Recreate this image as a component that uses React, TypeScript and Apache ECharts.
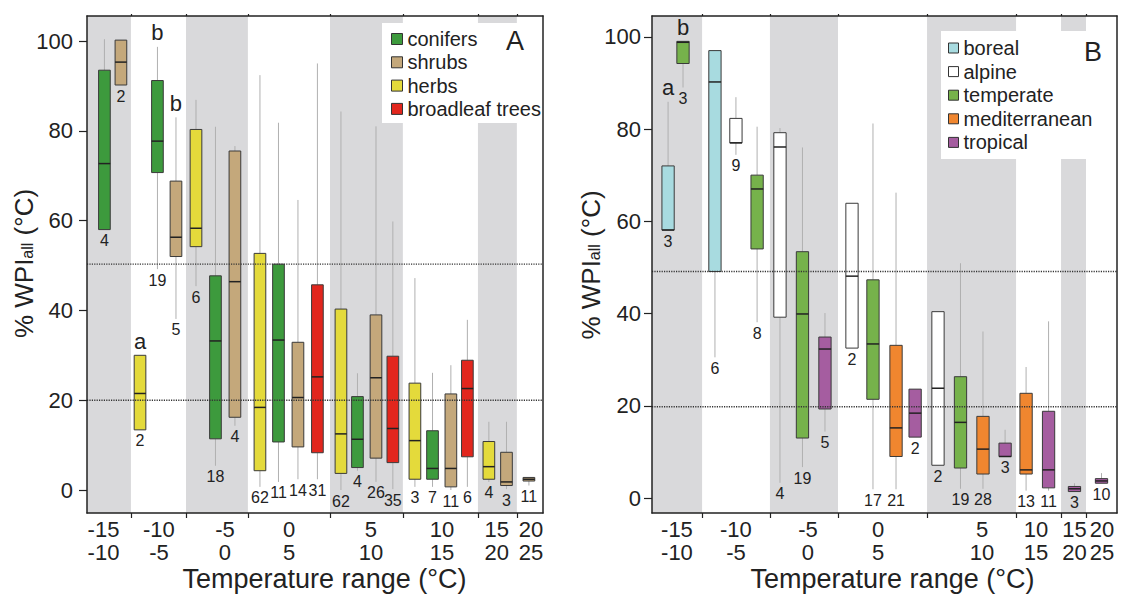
import React, { useEffect, useRef } from "react";
import * as echarts from "echarts";

const FONT = "'Liberation Sans', Arial, Helvetica, sans-serif";

// x tick labels (temperature ranges)
const tempLabels = ["-15\n-10", "-10\n-5", "-5\n0", "0\n5", "5\n10", "10\n15", "15\n20", "20\n25"];
const yTicks = [0, 20, 40, 60, 80, 100];

// Panel A: slot positions of range boundaries / label centres / shaded ranges
const edgesA = [2.37, 5.34, 8.68, 13.11, 17.04, 21.09, 23.19];
const labelPosA = [0.89, 3.88, 7.44, 10.9, 15.32, 19.15, 22.11, 23.95];
const shadedA = [[0, 2.37], [5.34, 8.68], [13.11, 17.04], [21.09, 23.19]];
const refLinesA = [50.3, 20];

// Panel B
const edgesB = [2.65, 6.24, 9.84, 14.55, 19.26, 21.64, 22.96];
const labelPosB = [1.32, 4.44, 8.25, 11.96, 17.46, 20.32, 22.35, 23.81];
const shadedB = [[0, 2.65], [6.24, 9.84], [14.55, 19.26], [21.64, 22.96]];
const refLinesB = [49.1, 19.8];

// [slot, lowWhisker, q1, median, q3, highWhisker, n, letter]
const conifers = [
  [0.94, null, 58.0, 72.7, 93.5, 100.4, 4, ""],
  [3.8, 49.2, 70.7, 77.7, 91.2, 98.7, 19, "b"],
  [6.93, 5.4, 11.4, 33.2, 47.7, 80.9, 18, ""],
  [10.33, 1.8, 10.7, 33.4, 50.3, 81.8, 11, ""],
  [14.59, 4.3, 5.0, 11.3, 20.8, 26.0, 4, ""],
  [18.64, 0.7, 2.4, 4.8, 13.2, 26.1, 7, ""],
];
const shrubs = [
  [1.83, null, 90.2, 95.3, 100.2, null, 2, ""],
  [4.8, 38.1, 52.0, 56.3, 68.8, 83.0, 5, "b"],
  [7.98, 14.3, 16.2, 46.4, 75.5, 76.6, 4, ""],
  [11.38, 2.4, 9.6, 20.6, 32.9, 64.6, 14, ""],
  [15.59, 1.8, 7.1, 25.0, 39.0, 81.0, 26, ""],
  [19.63, 0.0, 0.7, 4.8, 21.4, 27.8, 11, ""],
  [22.63, 0.2, 1.0, 1.8, 8.4, 15.2, 3, ""],
  [23.84, 1.0, 2.0, 2.4, 2.8, null, 11, ""],
];
const herbs = [
  [2.86, null, 13.4, 21.5, 30.0, null, 2, "a"],
  [5.88, 45.4, 54.2, 58.3, 80.3, 86.9, 6, ""],
  [9.33, 0.7, 4.3, 18.4, 52.7, 92.4, 62, ""],
  [13.7, 0.0, 3.7, 12.5, 40.3, 84.3, 62, ""],
  [17.69, 0.7, 2.4, 11.0, 23.8, 47.2, 3, ""],
  [21.68, 1.8, 2.4, 5.2, 10.8, 15.2, 4, ""],
];
const broadleaf = [
  [12.43, 2.4, 8.3, 25.2, 45.7, 95.0, 31, ""],
  [16.5, 0.2, 6.1, 13.7, 29.8, 59.8, 35, ""],
  [20.52, 0.7, 7.4, 22.6, 28.9, 37.9, 6, ""],
];

const boreal = [
  [0.85, null, 58.1, 58.1, 72.0, 85.9, 3, "a"],
  [3.33, 30.5, 49.1, 90.2, 97.0, null, 6, ""],
];
const alpine = [
  [4.44, 74.4, 77.0, 77.0, 82.3, 86.9, 9, ""],
  [6.77, 3.3, 39.2, 76.1, 79.2, 80.2, 4, ""],
  [10.58, null, 32.5, 48.1, 63.9, null, 2, ""],
  [15.13, null, 7.1, 23.8, 40.4, null, 2, ""],
];
const temperate = [
  [1.64, 89.0, 94.2, 98.8, 99.0, null, 3, "b"],
  [5.56, 38.1, 54.0, 67.0, 70.0, 80.5, 8, ""],
  [7.96, 6.7, 13.0, 39.9, 53.4, 76.0, 19, ""],
  [11.69, 1.9, 21.4, 33.4, 47.3, 81.2, 17, ""],
  [16.32, 2.0, 6.5, 16.4, 26.3, 50.9, 19, ""],
];
const mediterranean = [
  [12.91, 1.9, 9.0, 15.2, 33.1, 66.2, 21, ""],
  [17.51, 2.0, 5.2, 10.6, 17.7, 36.1, 28, ""],
  [19.79, 1.6, 5.2, 6.1, 22.7, 28.4, 13, ""],
];
const tropical = [
  [9.15, 14.4, 19.3, 32.3, 34.9, 40.1, 5, ""],
  [13.92, null, 13.2, 18.4, 23.6, null, 2, ""],
  [18.68, null, 9.0, 9.0, 11.9, 14.8, 3, ""],
  [20.98, 1.6, 2.2, 6.1, 18.8, 38.3, 11, ""],
  [22.35, null, 1.4, 2.0, 2.5, 3.2, 3, ""],
  [23.78, null, 3.2, 3.7, 4.2, 5.4, 10, ""],
];

const SLOT_MAX = 24.6;
const yRangeA = [-5.12, 105.57];
const yRangeB = [-3.25, 104.5];

function boxRenderer(rows: any[], boxW: number) {
  return (params: any, api: any) => {
    const r = rows[params.dataIndex];
    const [pos, lo, q1, med, q3, hi, n, letter] = r;
    const half = api.size([boxW, 0])[0] / 2;
    const c = (v: number) => api.coord([pos, v]);
    const p1 = c(q1);
    const p3 = c(q3);
    const pm = c(med);
    const x = p1[0];
    const color = api.visual("color");
    const children: any[] = [];
    if (hi != null) {
      children.push({ type: "line", shape: { x1: x, y1: p3[1], x2: x, y2: c(hi)[1] }, style: { stroke: "#b0b0b0", lineWidth: 1 } });
    }
    if (lo != null) {
      children.push({ type: "line", shape: { x1: x, y1: p1[1], x2: x, y2: c(lo)[1] }, style: { stroke: "#b0b0b0", lineWidth: 1 } });
    }
    children.push({
      type: "rect",
      shape: { x: x - half, y: p3[1], width: half * 2, height: Math.max(p1[1] - p3[1], 2) },
      style: { fill: color, stroke: "#3a3a3a", lineWidth: 1 },
    });
    children.push({ type: "line", shape: { x1: x - half, y1: pm[1], x2: x + half, y2: pm[1] }, style: { stroke: "#222", lineWidth: 1.5 } });
    const lowY = c(lo != null ? lo : q1)[1];
    children.push({
      type: "text", x, y: lowY + 11,
      style: { text: String(n), fontSize: 16, fontFamily: FONT, fill: "#222", align: "center", verticalAlign: "middle" },
    });
    if (letter) {
      const topY = c(hi != null ? hi : q3)[1];
      children.push({
        type: "text", x, y: topY - 14,
        style: { text: letter, fontSize: 22, fontFamily: FONT, fill: "#222", align: "center", verticalAlign: "middle" },
      });
    }
    return { type: "group", children };
  };
}

function boxSeries(name: string, rows: any[], color: string, axis: number, boxW: number) {
  return {
    name, type: "custom", xAxisIndex: axis, yAxisIndex: axis, z: 2,
    itemStyle: { color },
    data: rows.map((r) => [r[0], r[2], r[4]]),
    encode: { x: 0, y: [1, 2] },
    renderItem: boxRenderer(rows, boxW),
  };
}

function bandSeries(name: string, bands: number[][], axis: number, yr: number[]) {
  return {
    name, type: "custom", xAxisIndex: axis, yAxisIndex: axis, z: 1, silent: true,
    data: bands.map((b) => [b[0], b[1], 0]),
    encode: { x: [0, 1], y: 2 },
    renderItem: (params: any, api: any) => {
      const b = bands[params.dataIndex];
      const a = api.coord([b[0], yr[1]]);
      const d = api.coord([b[1], yr[0]]);
      return { type: "rect", shape: { x: a[0], y: a[1], width: d[0] - a[0], height: d[1] - a[1] }, style: { fill: "#d9d9db" } };
    },
  };
}

function refSeries(name: string, vals: number[], axis: number) {
  return {
    name, type: "custom", xAxisIndex: axis, yAxisIndex: axis, z: 5, silent: true,
    data: vals.map((v) => [0, v]),
    encode: { x: 0, y: 1 },
    renderItem: (params: any, api: any) => {
      const v = vals[params.dataIndex];
      const a = api.coord([0, v]);
      const b = api.coord([SLOT_MAX, v]);
      return { type: "line", shape: { x1: a[0], y1: a[1], x2: b[0], y2: b[1] }, style: { stroke: "#333", lineWidth: 1.4, lineDash: [1.2, 1.2] } };
    },
  };
}

function bottomX(grid: number, edges: number[], labelPos: number[]) {
  return {
    gridIndex: grid, type: "value", min: 0, max: SLOT_MAX, position: "bottom", z: 6,
    axisLine: { show: true, onZero: false, lineStyle: { color: "#222", width: 1.5 } },
    axisTick: { show: true, customValues: edges, length: 5, lineStyle: { color: "#222", width: 1.2 } },
    axisLabel: {
      show: true, customValues: labelPos, margin: 5, fontSize: 22, lineHeight: 23, color: "#222", fontFamily: FONT,
      formatter: (v: number) => {
        let best = 0;
        for (let i = 1; i < labelPos.length; i++) if (Math.abs(labelPos[i] - v) < Math.abs(labelPos[best] - v)) best = i;
        return tempLabels[best];
      },
    },
    splitLine: { show: false },
  };
}
function topX(grid: number, edges: number[]) {
  return {
    gridIndex: grid, type: "value", min: 0, max: SLOT_MAX, position: "top", z: 6,
    axisLine: { show: true, onZero: false, lineStyle: { color: "#222", width: 1.5 } },
    axisTick: { show: true, customValues: edges, length: 2, lineStyle: { color: "#222", width: 1.2 } },
    axisLabel: { show: false },
    splitLine: { show: false },
  };
}
function leftY(grid: number, yr: number[], margin: number) {
  return {
    gridIndex: grid, type: "value", min: yr[0], max: yr[1], position: "left", z: 6,
    axisLine: { show: true, onZero: false, lineStyle: { color: "#222", width: 1.5 } },
    axisTick: { show: true, customValues: yTicks, length: 8, lineStyle: { color: "#222", width: 1.2 } },
    axisLabel: { show: true, customValues: yTicks, margin, fontSize: 22, color: "#222", fontFamily: FONT },
    splitLine: { show: false },
  };
}
function rightY(grid: number, yr: number[]) {
  return {
    gridIndex: grid, type: "value", min: yr[0], max: yr[1], position: "right", z: 6,
    axisLine: { show: true, onZero: false, lineStyle: { color: "#222", width: 1.5 } },
    axisTick: { show: false }, axisLabel: { show: false }, splitLine: { show: false },
  };
}

function yName(x: number, y: number) {
  return {
    type: "text", x, y, rotation: Math.PI / 2, z: 10,
    style: {
      text: "{m|% WPI}{s|all}{m| (°C)}",
      rich: {
        m: { fontSize: 26, lineHeight: 26, fontFamily: FONT, fill: "#222" },
        s: { fontSize: 16, lineHeight: 16, fontFamily: FONT, fill: "#222", verticalAlign: "bottom", padding: [0, 0, 2, 0] },
      },
      align: "center", verticalAlign: "middle",
    },
  };
}
function plainText(text: string, x: number, y: number, size: number, lh?: number) {
  return {
    type: "text", x, y, z: 10,
    style: { text, fontSize: size, lineHeight: lh || size, fontFamily: FONT, fill: "#222", align: "center", verticalAlign: "middle" },
  };
}

export default function App() {
  const ref = useRef<HTMLDivElement>(null);
  useEffect(() => {
    if (!ref.current) return;
    const chart = echarts.init(ref.current, null, { renderer: "svg" });
    const option: any = {
      animation: false,
      backgroundColor: "#fff",
      grid: [
        { left: 87, top: 16, width: 456, height: 497 },
        { left: 652, top: 16, width: 465, height: 497 },
      ],
      xAxis: [bottomX(0, edgesA, labelPosA), topX(0, edgesA), bottomX(1, edgesB, labelPosB), topX(1, edgesB)],
      yAxis: [leftY(0, yRangeA, 14), rightY(0, yRangeA), leftY(1, yRangeB, 11), rightY(1, yRangeB)],
      legend: [
        {
          data: ["conifers", "shrubs", "herbs", "broadleaf trees"], orient: "vertical", left: 391, top: 29,
          itemWidth: 11, itemHeight: 11, itemGap: 3.3, icon: "rect", padding: 0, selectedMode: false,
          textStyle: { fontSize: 20, lineHeight: 20, color: "#222", fontFamily: FONT },
          itemStyle: { borderColor: "#333", borderWidth: 1 },
        },
        {
          data: ["boreal", "alpine", "temperate", "mediterranean", "tropical"], orient: "vertical", left: 948, top: 38,
          itemWidth: 10, itemHeight: 10, itemGap: 3.6, icon: "rect", padding: 0, selectedMode: false,
          textStyle: { fontSize: 20, lineHeight: 20, color: "#222", fontFamily: FONT },
          itemStyle: { borderColor: "#333", borderWidth: 1 },
        },
      ],
      graphic: [
        { type: "rect", shape: { x: 382, y: 23, width: 160, height: 100 }, style: { fill: "#fff" }, z: 3 },
        { type: "rect", shape: { x: 941, y: 31, width: 175, height: 128 }, style: { fill: "#fff" }, z: 3 },
        plainText("A", 515, 41, 27),
        plainText("B", 1093, 52, 27),
        yName(24, 263.5),
        yName(591, 265),
        plainText("Temperature range (°C)", 324.5, 579, 27, 27),
        plainText("Temperature range (°C)", 892.5, 579, 27, 27),
      ],
      series: [
        bandSeries("bandsA", shadedA, 0, yRangeA),
        bandSeries("bandsB", shadedB, 2, yRangeB),
        boxSeries("conifers", conifers, "#3d9a3d", 0, 0.63),
        boxSeries("shrubs", shrubs, "#c4a87b", 0, 0.63),
        boxSeries("herbs", herbs, "#e4da3b", 0, 0.63),
        boxSeries("broadleaf trees", broadleaf, "#e2261d", 0, 0.63),
        boxSeries("boreal", boreal, "#a8dbe0", 2, 0.65),
        boxSeries("alpine", alpine, "#ffffff", 2, 0.65),
        boxSeries("temperate", temperate, "#76b24b", 2, 0.65),
        boxSeries("mediterranean", mediterranean, "#f0862f", 2, 0.65),
        boxSeries("tropical", tropical, "#a55da0", 2, 0.65),
        refSeries("refA", refLinesA, 0),
        refSeries("refB", refLinesB, 2),
      ],
    };
    chart.setOption(option);
    return () => chart.dispose();
  }, []);
  return <div ref={ref} style={{ position: "fixed", left: 0, top: 0, width: 1121, height: 601, background: "#fff" }} />;
}
